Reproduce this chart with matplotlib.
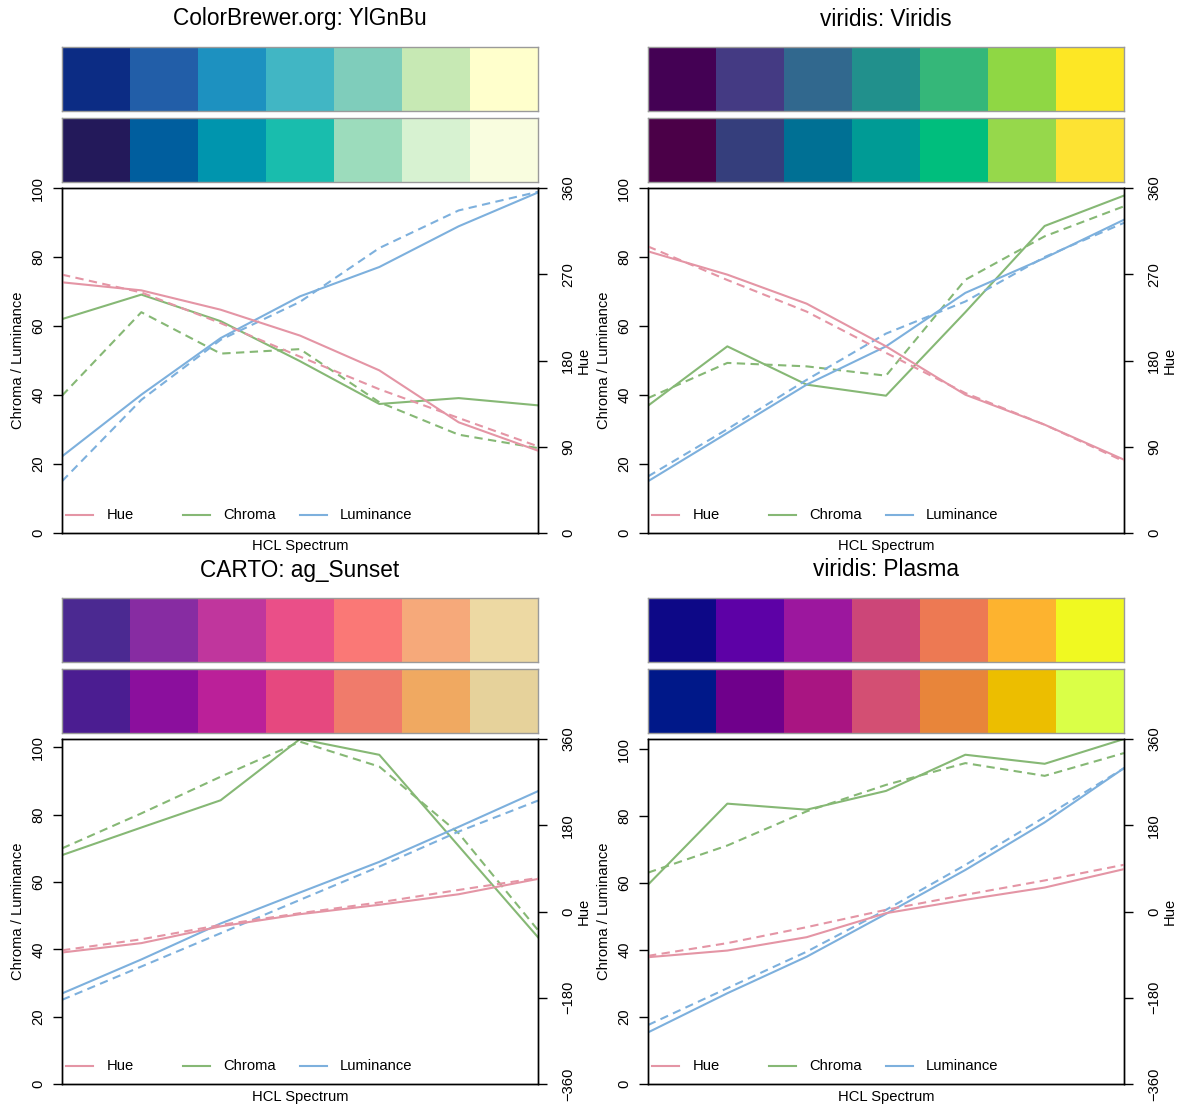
import numpy as np
import matplotlib
matplotlib.use("Agg")
import matplotlib.pyplot as plt

plt.rcParams["font.family"] = ["Liberation Sans", "DejaVu Sans"]

W, H = 1180, 1106

COL_HUE = "#E495A5"
COL_CHR = "#86B875"
COL_LUM = "#7DB0DD"

TITLES = ["ColorBrewer.org: YlGnBu", "viridis: Viridis", "CARTO: ag_Sunset", "viridis: Plasma"]

# palette swatches (top row = original palette, bottom row = HCL approximation)
YLGNBU_PAL = ["#0C2C84", "#225EA8", "#1D91C0", "#41B6C4", "#7FCDBB", "#C7E9B4", "#FFFFCC"]
YLGNBU_HCL = ["#23195A", "#005E9E", "#0095AE", "#19BDAD", "#9CDCBC", "#D7F2D1", "#F9FDDF"]
VIRIDIS_PAL = ["#440154", "#443A83", "#31688E", "#21908C", "#35B779", "#8FD744", "#FDE725"]
VIRIDIS_HCL = ["#4B0048", "#353E7C", "#007094", "#009B95", "#00BE7D", "#96D84B", "#FDE333"]
SUNSET_PAL = ["#4B2991", "#872CA2", "#C0369D", "#EA4F88", "#FA7876", "#F6A97A", "#EDD9A3"]
SUNSET_HCL = ["#4B1D91", "#8B0F9D", "#BB2099", "#E6487F", "#F07B6B", "#F0A961", "#E6D29B"]
PLASMA_PAL = ["#0D0887", "#5D01A6", "#9C179E", "#CC4678", "#ED7953", "#FDB32F", "#F0F921"]
PLASMA_HCL = ["#001889", "#6F008B", "#A91582", "#D34F73", "#E8853A", "#ECBE00", "#DAFF47"]

# HCL coordinates of palette (solid) and approximation (dashed)
YLGNBU_H = [261.6, 253.2, 233.0, 206.0, 169.7, 115.5, 85.9]
YLGNBU_H2 = [269.6, 251.0, 219.0, 184.0, 150.0, 120.0, 90.4]
YLGNBU_C = [62.0, 69.1, 61.4, 49.8, 37.4, 39.1, 37.0]
YLGNBU_C2 = [39.8, 64.0, 52.0, 53.3, 37.9, 28.5, 24.6]
YLGNBU_L = [22.2, 40.1, 56.5, 68.6, 77.1, 88.9, 98.7]
YLGNBU_L2 = [15.0, 38.6, 56.0, 67.0, 82.6, 93.5, 98.9]

VIRIDIS_H = [293.9, 269.6, 239.3, 194.8, 144.3, 113.0, 76.5]
VIRIDIS_H2 = [299.0, 264.0, 231.0, 188.0, 146.0, 113.0, 74.8]
VIRIDIS_C = [36.9, 54.1, 43.0, 39.8, 64.0, 89.0, 97.8]
VIRIDIS_C2 = [39.1, 49.3, 48.3, 45.6, 73.4, 86.0, 94.7]
VIRIDIS_L = [15.0, 29.0, 43.0, 54.1, 69.6, 79.7, 90.8]
VIRIDIS_L2 = [16.4, 30.1, 44.4, 57.8, 67.1, 80.0, 89.9]

SUNSET_H = [-85.6, -66.0, -31.0, -5.6, 14.0, 36.0, 68.0]
SUNSET_H2 = [-81.0, -58.0, -28.0, -3.5, 19.0, 45.0, 70.0]
SUNSET_C = [68.0, 76.2, 84.3, 102.5, 97.8, 70.7, 43.6]
SUNSET_C2 = [70.0, 80.4, 91.3, 101.7, 94.3, 74.5, 45.7]
SUNSET_L = [26.9, 37.0, 47.7, 56.9, 66.0, 76.4, 87.0]
SUNSET_L2 = [25.0, 34.9, 44.8, 54.7, 64.6, 75.0, 84.2]

PLASMA_H = [-95.4, -81.5, -53.6, -3.5, 24.4, 50.0, 88.4]
PLASMA_H2 = [-92.6, -66.0, -32.7, 3.5, 34.8, 64.8, 97.5]
PLASMA_C = [59.5, 83.7, 81.9, 87.5, 98.3, 95.6, 103.0]
PLASMA_C2 = [63.1, 71.2, 81.4, 89.3, 95.8, 92.0, 98.8]
PLASMA_L = [15.4, 27.1, 38.0, 50.8, 63.9, 78.1, 94.3]
PLASMA_L2 = [17.6, 28.6, 39.5, 52.0, 65.4, 79.7, 94.3]

PALS = [(YLGNBU_PAL, YLGNBU_HCL), (VIRIDIS_PAL, VIRIDIS_HCL),
        (SUNSET_PAL, SUNSET_HCL), (PLASMA_PAL, PLASMA_HCL)]
SPECS = [
    (YLGNBU_H, YLGNBU_H2, YLGNBU_C, YLGNBU_C2, YLGNBU_L, YLGNBU_L2),
    (VIRIDIS_H, VIRIDIS_H2, VIRIDIS_C, VIRIDIS_C2, VIRIDIS_L, VIRIDIS_L2),
    (SUNSET_H, SUNSET_H2, SUNSET_C, SUNSET_C2, SUNSET_L, SUNSET_L2),
    (PLASMA_H, PLASMA_H2, PLASMA_C, PLASMA_C2, PLASMA_L, PLASMA_L2),
]


def px(x0, y0, x1, y1):
    return [x0 / W, 1 - y1 / H, (x1 - x0) / W, (y1 - y0) / H]


def swatch(fig, rect, cols):
    ax = fig.add_axes(px(*rect))
    ax.bar(np.arange(len(cols)), 1, width=1, color=cols, align="edge", lw=0)
    ax.set_xlim(0, len(cols))
    ax.set_ylim(0, 1)
    ax.set_xticks([])
    ax.set_yticks([])
    for s in ax.spines.values():
        s.set_color("#9a9a9a")
        s.set_linewidth(1.0)


fig = plt.figure(figsize=(W / 100, H / 100), dpi=100)
DASH = (0, (4, 2.6))
FS = 10.6

for i, (title, (pal, hcl), spec) in enumerate(zip(TITLES, PALS, SPECS)):
    col, row = i % 2, i // 2
    x0 = 62 if col == 0 else 648
    x1 = x0 + 476
    yoff = 0 if row == 0 else 551
    h, h2, c, c2, l, l2 = spec

    fig.text((x0 + x1) / 2 / W, 1 - (19 + yoff) / H, title, ha="center", va="center",
             fontsize=16.3)
    swatch(fig, (x0, 47 + yoff, x1, 111 + yoff), pal)
    swatch(fig, (x0, 118 + yoff, x1, 182 + yoff), hcl)

    ax = fig.add_axes(px(x0, 188 + yoff, x1, 533 + yoff))
    ax2 = ax.twinx()
    xs = np.linspace(0, 1, len(h))
    ytop = max(100, max(c + c2 + l + l2))
    neg_hue = min(h + h2) < 0
    hlim = (-360, 360) if neg_hue else (0, 360)

    ax.plot(xs, c, color=COL_CHR, lw=1.5)
    ax.plot(xs, c2, color=COL_CHR, lw=1.5, ls=DASH)
    ax.plot(xs, l, color=COL_LUM, lw=1.5)
    ax.plot(xs, l2, color=COL_LUM, lw=1.5, ls=DASH)
    ax2.plot(xs, h, color=COL_HUE, lw=1.5)
    ax2.plot(xs, h2, color=COL_HUE, lw=1.5, ls=DASH)

    ax.set_xlim(0, 1)
    ax.set_ylim(0, ytop)
    ax2.set_ylim(*hlim)
    ax.set_xticks([])
    ax.set_yticks(np.arange(0, 101, 20))
    ax2.set_yticks(np.arange(hlim[0], 361, 90 if not neg_hue else 180))
    for a in (ax, ax2):
        for s in a.spines.values():
            s.set_linewidth(1.0)
            s.set_color("black")
    ax.tick_params(axis="y", length=6.5, width=1, labelsize=FS, pad=5.6, labelrotation=90)
    ax2.tick_params(axis="y", length=6.5, width=1, labelsize=FS, pad=10.2, labelrotation=90)
    for t in ax.get_yticklabels() + ax2.get_yticklabels():
        t.set_va("center")

    ax.set_ylabel("Chroma / Luminance", fontsize=FS, va="center")
    ax.yaxis.set_label_coords(-0.092, 0.5)
    ax2.set_ylabel("Hue", fontsize=FS, rotation=90, va="center")
    ax2.yaxis.set_label_coords(1.097, 0.5)
    ax.set_xlabel("HCL Spectrum", fontsize=FS)
    ax.xaxis.set_label_coords(0.5, -0.038)
    ax.xaxis.label.set_va("center")

    # legend drawn in R style: equal spacing columns
    for k, (name, lc) in enumerate([("Hue", COL_HUE), ("Chroma", COL_CHR), ("Luminance", COL_LUM)]):
        lx = 0.009 + k * 0.2455
        ax.plot([lx, lx + 0.057], [0.051, 0.051], color=lc, lw=1.5, transform=ax.transAxes,
                clip_on=False)
        ax.text(lx + 0.0845, 0.051, name, transform=ax.transAxes, fontsize=FS,
                ha="left", va="center")

fig.savefig("out.png", dpi=100)
